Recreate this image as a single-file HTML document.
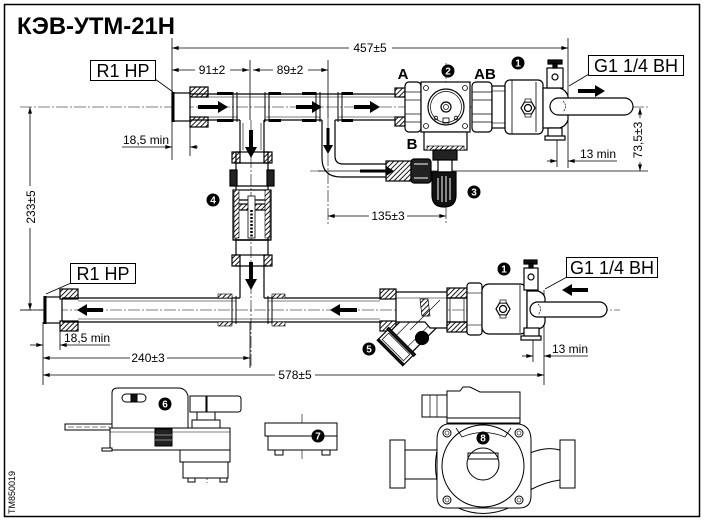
<!DOCTYPE html>
<html><head><meta charset="utf-8"><style>
html,body{margin:0;padding:0;background:#fff;}
svg{display:block;}
text{font-family:"Liberation Sans",sans-serif;}
</style></head><body>
<svg width="707" height="523" viewBox="0 0 707 523" xmlns="http://www.w3.org/2000/svg">
<defs>
<pattern id="h" width="3.5" height="3.5" patternUnits="userSpaceOnUse" patternTransform="rotate(45)"><rect width="3.5" height="3.5" fill="#fff"/><line x1="0.5" y1="0" x2="0.5" y2="3.5" stroke="#000" stroke-width="0.9"/></pattern>
<marker id="m" viewBox="0 0 10 6" refX="10" refY="3" markerWidth="8" markerHeight="4" markerUnits="userSpaceOnUse" orient="auto-start-reverse"><path d="M0,0L10,3L0,6z"/></marker>
</defs>
<rect width="707" height="523" fill="#fff"/>
<rect x="4.5" y="4.5" width="695" height="512" fill="none" stroke="#000" stroke-width="1.5"/>
<text x="17" y="34" font-size="24" font-weight="bold" textLength="158" lengthAdjust="spacingAndGlyphs">КЭВ-УТМ-21Н</text>

<!-- center lines -->
<g stroke="#000" stroke-width="0.6" stroke-dasharray="12 2 2 2" fill="none">
<line x1="20" y1="107" x2="648" y2="107"/>
<line x1="20" y1="310" x2="620" y2="310"/>
<line x1="251" y1="120" x2="251" y2="368"/>
<line x1="328" y1="118" x2="328" y2="224"/>
<line x1="446" y1="63" x2="446" y2="224"/>
<line x1="207" y1="414" x2="207" y2="483"/>
<line x1="302" y1="414" x2="302" y2="459"/>
<line x1="310" y1="171" x2="330" y2="171"/>
</g>

<!-- dimension lines -->
<g stroke="#000" stroke-width="0.8" fill="none">
<line x1="172" y1="38" x2="172" y2="160"/>
<line x1="568" y1="38" x2="568" y2="168"/>
<line x1="172" y1="48" x2="568" y2="48" marker-start="url(#m)" marker-end="url(#m)"/>
<line x1="250" y1="60" x2="250" y2="120"/>
<line x1="328" y1="60" x2="328" y2="118"/>
<line x1="172" y1="70" x2="249" y2="70" marker-start="url(#m)" marker-end="url(#m)"/>
<line x1="253" y1="70" x2="328" y2="70" marker-start="url(#m)" marker-end="url(#m)"/>
<line x1="190" y1="127" x2="190" y2="156"/>
<line x1="122" y1="147" x2="172" y2="147" marker-end="url(#m)"/>
<line x1="198" y1="147" x2="190" y2="147" marker-end="url(#m)"/>
<line x1="30" y1="107" x2="30" y2="310" marker-start="url(#m)" marker-end="url(#m)"/>
<line x1="20" y1="310" x2="43" y2="310"/>
<line x1="43" y1="322" x2="43" y2="385"/>
<line x1="60" y1="326" x2="60" y2="350"/>
<line x1="30" y1="345" x2="43" y2="345" marker-end="url(#m)"/>
<line x1="110" y1="345" x2="60" y2="345" marker-end="url(#m)"/>
<line x1="250" y1="322" x2="250" y2="368"/>
<line x1="43" y1="358" x2="250" y2="358" marker-start="url(#m)" marker-end="url(#m)"/>
<line x1="544" y1="290" x2="544" y2="385"/>
<line x1="43" y1="375" x2="544" y2="375" marker-start="url(#m)" marker-end="url(#m)"/>
<line x1="533" y1="335" x2="533" y2="362"/>
<line x1="522" y1="356" x2="533" y2="356" marker-end="url(#m)"/>
<line x1="588" y1="356" x2="544" y2="356" marker-end="url(#m)"/>
<line x1="557" y1="130" x2="557" y2="167"/>
<line x1="547" y1="161" x2="557" y2="161" marker-end="url(#m)"/>
<line x1="617" y1="161" x2="568" y2="161" marker-end="url(#m)"/>
<line x1="318" y1="171" x2="648" y2="171"/>
<line x1="640" y1="108" x2="640" y2="171" marker-start="url(#m)" marker-end="url(#m)"/>
<line x1="328" y1="216" x2="446" y2="216" marker-start="url(#m)" marker-end="url(#m)"/>
<line x1="155" y1="79" x2="173" y2="92"/>
<line x1="71" y1="283" x2="46" y2="294"/>
<line x1="589" y1="74" x2="569" y2="86"/>
<line x1="567" y1="277" x2="545" y2="289"/>
</g>
<g fill="#fff">
<rect x="349" y="41" width="43" height="14"/>
<rect x="195" y="63" width="35" height="14"/>
<rect x="273" y="63" width="35" height="14"/>
<rect x="24" y="186" width="14" height="42"/>
<rect x="130" y="351" width="37" height="14"/>
<rect x="275" y="368" width="40" height="14"/>
<rect x="369" y="209" width="38" height="14"/>
<rect x="631" y="118" width="14" height="44"/>
</g>
<g font-size="12" fill="#000">
<text x="370" y="52" text-anchor="middle">457±5</text>
<text x="212" y="74" text-anchor="middle">91±2</text>
<text x="290" y="74" text-anchor="middle">89±2</text>
<text x="123" y="144">18,5 min</text>
<text x="64" y="342">18,5 min</text>
<text x="148" y="362" text-anchor="middle">240±3</text>
<text x="295" y="379" text-anchor="middle">578±5</text>
<text x="388" y="220" text-anchor="middle">135±3</text>
<text x="580" y="158">13 min</text>
<text x="552" y="353">13 min</text>
<text transform="translate(35,207) rotate(-90)" text-anchor="middle">233±5</text>
<text transform="translate(642,140) rotate(-90)" text-anchor="middle">73,5±3</text>
</g>
<text transform="translate(15,514) rotate(-90)" font-size="9">TM850019</text>

<!-- label boxes -->
<g fill="#fff" stroke="#000" stroke-width="1">
<rect x="90.5" y="60.5" width="65" height="20"/>
<rect x="70.5" y="263.5" width="65" height="20"/>
<rect x="588.5" y="55.5" width="95" height="20"/>
<rect x="566.5" y="257.5" width="91" height="20"/>
</g>
<g font-size="18" fill="#000">
<text x="123" y="77" text-anchor="middle">R1 HP</text>
<text x="103" y="280" text-anchor="middle">R1 HP</text>
<text x="636" y="72" text-anchor="middle">G1 1/4 BH</text>
<text x="612" y="274" text-anchor="middle">G1 1/4 BH</text>
</g>
<g font-size="15" font-weight="bold" fill="#000" text-anchor="middle">
<text x="403" y="79">A</text>
<text x="485" y="79">AB</text>
<text x="412" y="149">B</text>
</g>

<!-- UPPER PIPE -->
<g stroke="#000" fill="none" stroke-width="1.2">
<rect x="172" y="93" width="18" height="28" fill="#fff"/>
<line x1="173" y1="92" x2="173" y2="122" stroke-width="3"/>
<rect x="190" y="87" width="18" height="10" fill="url(#h)"/>
<rect x="190" y="117" width="18" height="10" fill="url(#h)"/>
<line x1="190" y1="94" x2="405" y2="94"/>
<line x1="190" y1="120" x2="240" y2="120"/>
<line x1="264" y1="120" x2="322" y2="120"/>
<line x1="335" y1="120" x2="405" y2="120"/>
<g stroke-width="0.6">
<line x1="208" y1="97" x2="395" y2="97"/>
<line x1="208" y1="117" x2="238" y2="117"/>
<line x1="266" y1="117" x2="320" y2="117"/>
<line x1="338" y1="117" x2="395" y2="117"/>
</g>
<g stroke-width="1">
<line x1="233" y1="92" x2="233" y2="122"/><line x1="237" y1="92" x2="237" y2="122"/>
<line x1="265" y1="92" x2="265" y2="122"/><line x1="269" y1="92" x2="269" y2="122"/>
<line x1="316" y1="92" x2="316" y2="122"/><line x1="320" y1="92" x2="320" y2="122"/>
<line x1="338" y1="92" x2="338" y2="122"/><line x1="342" y1="92" x2="342" y2="122"/>
</g>
<g fill="#000" stroke="none">
<rect x="217" y="92" width="16" height="3"/><rect x="217" y="119" width="16" height="3"/>
<rect x="269" y="92" width="12" height="3"/><rect x="269" y="119" width="12" height="3"/>
<rect x="302" y="92" width="14" height="3"/><rect x="302" y="119" width="14" height="3"/>
<rect x="342" y="92" width="11" height="3"/><rect x="342" y="119" width="11" height="3"/>
</g>
<rect x="395" y="88" width="10" height="9" fill="url(#h)"/>
<rect x="395" y="117" width="10" height="9" fill="url(#h)"/>

<!-- vertical branch 4 -->
<line x1="240" y1="120" x2="240" y2="152"/><line x1="264" y1="120" x2="264" y2="152"/>
<rect x="232" y="152" width="8" height="11" fill="url(#h)"/><rect x="264" y="152" width="8" height="11" fill="url(#h)"/>
<rect x="236" y="152" width="32" height="88" fill="none"/>
<rect x="230" y="170" width="7" height="16" fill="#222"/><rect x="267" y="170" width="7" height="16" fill="#222"/>
<line x1="236" y1="163" x2="268" y2="163"/>
<line x1="236" y1="186" x2="268" y2="186"/>
<rect x="233" y="190" width="38" height="50" fill="none"/>
<line x1="233" y1="200" x2="271" y2="200"/>
<rect x="238" y="204" width="28" height="6" fill="url(#h)"/>
<rect x="234" y="190" width="5" height="48" fill="url(#h)" stroke-width="0.6"/>
<rect x="265" y="190" width="5" height="48" fill="url(#h)" stroke-width="0.6"/>
<rect x="248" y="196" width="7" height="42" fill="#fff" stroke-width="0.8"/>
<line x1="251.5" y1="210" x2="251.5" y2="238" stroke-width="2.5" stroke-dasharray="2 1.5"/>
<line x1="233" y1="240" x2="271" y2="240"/>
<rect x="236" y="240" width="32" height="15" fill="none"/>
<rect x="232" y="255" width="8" height="11" fill="url(#h)"/><rect x="264" y="255" width="8" height="11" fill="url(#h)"/>
<line x1="236" y1="266" x2="268" y2="266"/>
<line x1="240" y1="266" x2="240" y2="298"/><line x1="264" y1="266" x2="264" y2="298"/>
<line x1="243" y1="123" x2="243" y2="150" stroke-width="0.6"/><line x1="261" y1="123" x2="261" y2="150" stroke-width="0.6"/>

<!-- small branch -->
<path d="M322,120 V158 Q322,177 341,177 H386"/>
<path d="M335,120 V156 Q335,164 343,164 H386"/>
<rect x="386" y="161" width="25" height="20" fill="url(#h)"/>
<rect x="411" y="159" width="20" height="24" rx="3" fill="#222"/>
<line x1="414" y1="164" x2="428" y2="164" stroke="#fff" stroke-width="1"/>
<line x1="414" y1="178" x2="428" y2="178" stroke="#fff" stroke-width="1"/>

<!-- valve 2 -->
<rect x="405" y="82" width="16" height="50" rx="4" fill="#fff"/>
<line x1="405" y1="92" x2="421" y2="92" stroke-width="0.7"/><line x1="405" y1="100" x2="421" y2="100" stroke-width="0.7"/>
<line x1="405" y1="114" x2="421" y2="114" stroke-width="0.7"/><line x1="405" y1="122" x2="421" y2="122" stroke-width="0.7"/>
<rect x="421" y="82" width="49" height="50" fill="#fff"/>
<circle cx="446" cy="107" r="18"/>
<circle cx="446" cy="107" r="15.5" stroke-width="0.7"/>
<circle cx="446" cy="107" r="5"/><circle cx="446" cy="107" r="2.5" stroke-width="0.7"/>
<circle cx="426" cy="88" r="2.5" stroke-width="0.8"/><circle cx="465" cy="88" r="2.5" stroke-width="0.8"/>
<circle cx="426" cy="126" r="2.5" stroke-width="0.8"/><circle cx="465" cy="126" r="2.5" stroke-width="0.8"/>
<circle cx="436" cy="118" r="1.8" stroke-width="0.8"/><circle cx="456" cy="118" r="1.8" stroke-width="0.8"/>
<rect x="443" y="118" width="6" height="5" stroke-width="0.8"/>
<rect x="424" y="132" width="43" height="18" fill="#fff"/>
<rect x="427" y="146" width="37" height="4" fill="url(#h)" stroke-width="0.6"/>
<rect x="433" y="150" width="24" height="10" fill="#222"/>
<rect x="438" y="160" width="14" height="12" fill="#fff"/>
<path d="M432,172 H456 V195 Q456,207 444,207 Q432,207 432,195 Z" fill="#111"/>
<g stroke="#fff" stroke-width="1"><line x1="438" y1="178" x2="438" y2="200"/><line x1="442" y1="176" x2="442" y2="202"/><line x1="446" y1="176" x2="446" y2="202"/><line x1="450" y1="178" x2="450" y2="200"/></g>

<!-- valve 1 upper -->
<rect x="472" y="82" width="20" height="50" rx="4" fill="#fff"/>
<line x1="472" y1="92" x2="492" y2="92" stroke-width="0.7"/><line x1="472" y1="100" x2="492" y2="100" stroke-width="0.7"/>
<line x1="472" y1="114" x2="492" y2="114" stroke-width="0.7"/><line x1="472" y1="122" x2="492" y2="122" stroke-width="0.7"/>
<rect x="492" y="86" width="13" height="42" fill="#fff"/>
<line x1="492" y1="91" x2="505" y2="91" stroke-width="0.6"/><line x1="492" y1="123" x2="505" y2="123" stroke-width="0.6"/>
<rect x="505" y="80" width="38" height="54" rx="5" fill="#fff"/>
<line x1="512" y1="80" x2="512" y2="134" stroke-width="0.8"/>
<line x1="536" y1="82" x2="536" y2="132" stroke-width="0.8"/>
<path d="M543,88 H560 Q566,90 568,96 V120 Q566,126 560,128 H543 Z" fill="#fff"/>
<rect x="547" y="68" width="16" height="20" fill="#fff"/>
<circle cx="555" cy="77" r="3"/>
<rect x="548" y="60" width="14" height="4" fill="#111"/><rect x="553" y="63" width="4" height="5" fill="#111"/>
<rect x="548" y="128" width="14" height="9" fill="#fff"/>
<rect x="545" y="136" width="20" height="4" fill="#fff"/>
<rect x="550" y="98" width="83" height="17" rx="8.5" fill="#fff"/>
<path d="M563,101 Q568,106 563,112" stroke-width="0.7" stroke-dasharray="2 1"/>
<path d="M521,108 l3.5,-6 h7 l3.5,6 l-3.5,6 h-7 z" fill="#fff"/>
<circle cx="528" cy="108" r="3.5"/>
<rect x="525" y="99" width="6" height="3" fill="#fff" stroke-width="0.7"/>
<rect x="525" y="114" width="6" height="3" fill="#fff" stroke-width="0.7"/>

<!-- LOWER PIPE -->
<rect x="44" y="297" width="18" height="26" fill="#fff"/>
<line x1="45" y1="296" x2="45" y2="324" stroke-width="3"/>
<rect x="60" y="289" width="18" height="10" fill="url(#h)"/>
<rect x="60" y="321" width="18" height="10" fill="url(#h)"/>
<line x1="62" y1="298" x2="240" y2="298"/>
<line x1="264" y1="298" x2="397" y2="298"/>
<line x1="62" y1="322" x2="397" y2="322"/>
<line x1="78" y1="301" x2="236" y2="301" stroke-width="0.6"/>
<line x1="268" y1="301" x2="380" y2="301" stroke-width="0.6"/>
<line x1="78" y1="319" x2="380" y2="319" stroke-width="0.6"/>
<g stroke-width="1">
<line x1="232" y1="296" x2="232" y2="324"/><line x1="236" y1="296" x2="236" y2="324"/>
<line x1="268" y1="296" x2="268" y2="324"/><line x1="272" y1="296" x2="272" y2="324"/>
</g>
<rect x="218" y="294" width="14" height="4" fill="url(#h)" stroke-width="0.6"/><rect x="218" y="322" width="14" height="4" fill="url(#h)" stroke-width="0.6"/>
<rect x="272" y="294" width="13" height="4" fill="url(#h)" stroke-width="0.6"/><rect x="272" y="322" width="13" height="4" fill="url(#h)" stroke-width="0.6"/>
<rect x="380" y="289" width="16" height="10" fill="url(#h)"/>
<rect x="380" y="321" width="16" height="10" fill="url(#h)"/>
<!-- strainer -->
<g transform="translate(407,336) rotate(45)">
<rect x="-15" y="-26" width="30" height="34" fill="#fff"/>
<rect x="-18" y="8" width="36" height="16" fill="#fff"/>
<rect x="-15" y="11" width="30" height="9" stroke-width="0.7"/>
<rect x="-19" y="7" width="38" height="2.5" fill="#222"/>
<rect x="-18" y="22" width="36" height="2" fill="#222"/>
<line x1="-8" y1="-24" x2="-8" y2="8" stroke-width="0.6"/><line x1="8" y1="-24" x2="8" y2="8" stroke-width="0.6"/>
</g>
<path d="M396,292 H447 V328 H430 L425,322 H396 Z" fill="#fff"/>
<line x1="396" y1="298" x2="447" y2="298" stroke-width="0.6"/>
<line x1="396" y1="322" x2="412" y2="322" stroke-width="0.6"/>
<path d="M420,299 L428,299 L430,316 L422,316 Z" fill="url(#h)" stroke-width="0.7"/>
<line x1="410" y1="330" x2="440" y2="300" stroke-width="0.6"/>
<circle cx="422" cy="338" r="6.5" fill="#000"/>
<rect x="447" y="288" width="20" height="10" fill="url(#h)"/>
<rect x="447" y="322" width="20" height="10" fill="url(#h)"/>
<line x1="447" y1="298" x2="467" y2="298"/><line x1="447" y1="322" x2="467" y2="322"/>
<line x1="450" y1="298" x2="450" y2="322" stroke-width="0.7"/><line x1="464" y1="298" x2="464" y2="322" stroke-width="0.7"/>
<rect x="467" y="283" width="15" height="52" rx="3" fill="#fff"/>
<line x1="467" y1="293" x2="482" y2="293" stroke-width="0.6"/><line x1="467" y1="325" x2="482" y2="325" stroke-width="0.6"/>
<rect x="482" y="284" width="45" height="50" rx="7" fill="#fff"/>
<line x1="520" y1="285" x2="520" y2="333" stroke-width="0.8"/>
<path d="M527,291 H538 Q544,293 545,298 V322 Q544,328 538,329 H527 Z" fill="#fff"/>
<rect x="524" y="268" width="14" height="22" fill="#fff"/>
<circle cx="531" cy="277" r="3"/>
<rect x="524" y="260" width="13" height="4" fill="#111"/><rect x="529" y="263" width="4" height="5" fill="#111"/>
<rect x="524" y="328" width="15" height="9" fill="#fff"/>
<rect x="521" y="336" width="20" height="4" fill="#fff"/>
<rect x="530" y="302" width="77" height="15" rx="7.5" fill="#fff"/>
<path d="M538,304 Q543,309 538,315" stroke-width="0.7" stroke-dasharray="2 1"/>
<path d="M496,309 l3.5,-6 h7 l3.5,6 l-3.5,6 h-7 z" fill="#fff"/>
<circle cx="503" cy="309" r="3.5"/>
<rect x="500" y="300" width="6" height="3" fill="#fff" stroke-width="0.7"/>
<rect x="500" y="315" width="6" height="3" fill="#fff" stroke-width="0.7"/>
</g>

<!-- flow arrows -->
<g fill="#000">
<path d="M198,105 H218 V101 L228,107 L218,113 V109 H198 Z"/>
<path d="M296,105 H312 V101 L322,107 L312,113 V109 H296 Z"/>
<path d="M354,105 H370 V101 L380,107 L370,113 V109 H354 Z"/>
<path d="M578,89 H595 V85 L605,91 L595,97 V93 H578 Z"/>
<path d="M360,169.5 H386 V166 L394,171 L386,176 V172.5 H360 Z"/>
<path d="M326.5,128 V145 H323 L328,154 L333,145 H329.5 V128 Z"/>
<path d="M249,130 V147 H245 L251,158 L257,147 H253 V130 Z"/>
<path d="M249,262 V279 H245 L251,290 L257,279 H253 V262 Z"/>
<path d="M103,308 H87 V304 L77,310 L87,316 V312 H103 Z"/>
<path d="M357,308 H340 V304 L330,310 L340,316 V312 H357 Z"/>
<path d="M588,288 H572 V284 L562,290 L572,296 V292 H588 Z"/>
</g>

<!-- item 6 actuator -->
<g stroke="#000" stroke-width="1" fill="#fff">
<rect x="65" y="424" width="47" height="6"/>
<line x1="68" y1="427" x2="110" y2="427" stroke-width="0.6" stroke-dasharray="6 2"/>
<path d="M112,428 V393 Q112,388 118,388 H178 Q186,388 188,396 V428 Z"/>
<rect x="122" y="394" width="24" height="8" rx="4"/>
<rect x="131" y="394" width="6" height="8" fill="#111"/>
<rect x="190" y="396" width="16" height="16"/>
<path d="M207,396 H238 Q241,396 241,399 V409 Q241,412 238,412 H207 Z"/>
<rect x="197" y="412" width="18" height="8"/>
<rect x="192" y="420" width="28" height="8"/>
<rect x="110" y="428" width="120" height="22"/>
<line x1="110" y1="432" x2="230" y2="432" stroke-width="0.6"/>
<rect x="155" y="429" width="17" height="17" fill="#222"/>
<line x1="155" y1="435" x2="172" y2="435" stroke="#888"/><line x1="155" y1="440" x2="172" y2="440" stroke="#888"/>
<rect x="102" y="448" width="10" height="3"/>
<rect x="180" y="450" width="50" height="12"/>
<rect x="183" y="462" width="45" height="16"/>
<rect x="188" y="478" width="7" height="4"/>
<rect x="220" y="478" width="7" height="4"/>
</g>

<!-- item 7 -->
<g stroke="#000" stroke-width="1" fill="#fff">
<rect x="265" y="423" width="72" height="13"/>
<rect x="268" y="436" width="69" height="14"/>
<rect x="275" y="450" width="8" height="5"/>
<rect x="322" y="450" width="8" height="5"/>
</g>

<!-- item 8 pump -->
<g stroke="#000" stroke-width="1" fill="#fff">
<rect x="390" y="440" width="15" height="48"/>
<line x1="405" y1="450" x2="440" y2="450"/>
<line x1="405" y1="479" x2="440" y2="479"/>
<rect x="560" y="440" width="15" height="48"/>
<path d="M528,454 Q545,446 560,450" fill="none"/>
<path d="M530,490 Q545,482 560,480" fill="none"/>
<path d="M452,505 Q483,522 515,505" fill="none"/>
<path d="M440,440 Q431,465 440,492" fill="none"/>
<rect x="422" y="395" width="25" height="22"/>
<line x1="430" y1="395" x2="430" y2="417" stroke-width="0.7"/><line x1="437" y1="395" x2="437" y2="417" stroke-width="0.7"/>
<path d="M447,418 V391 H460 L463,387 H470 L480,392 H520 V418 Z"/>
<rect x="447" y="418" width="73" height="5"/>
<path d="M447,424 H519 Q531,426 531,440 V496 Q531,508 519,508 H447 Q437,508 437,496 V440 Q437,426 447,424 Z"/>
<path d="M456,428 L462,437 Q483,428 505,437 L511,428" fill="none" stroke-width="0.8"/>
<circle cx="483" cy="466" r="41" fill="none"/>
<circle cx="447" cy="433" r="4"/><circle cx="447" cy="433" r="2" stroke-width="0.6"/>
<circle cx="519" cy="433" r="4"/><circle cx="519" cy="433" r="2" stroke-width="0.6"/>
<circle cx="447" cy="500" r="4"/><circle cx="447" cy="500" r="2" stroke-width="0.6"/>
<circle cx="519" cy="500" r="4"/><circle cx="519" cy="500" r="2" stroke-width="0.6"/>
<circle cx="483" cy="464" r="16"/>
<rect x="468" y="453" width="30" height="6" fill="none"/>
</g>

<!-- callouts -->
<g fill="#000">
<circle cx="518" cy="63" r="6.5"/><circle cx="448" cy="71" r="6.5"/>
<circle cx="474" cy="192" r="6.5"/><circle cx="213" cy="200" r="6.5"/>
<circle cx="369" cy="349" r="6.5"/><circle cx="504" cy="269" r="6.5"/>
<circle cx="165" cy="404" r="6.5"/><circle cx="318" cy="436" r="6.5"/>
<circle cx="483" cy="438" r="6.5"/>
</g>
<g fill="#fff" font-size="10" font-weight="bold" text-anchor="middle">
<text x="518" y="66.5">1</text><text x="448" y="74.5">2</text>
<text x="474" y="195.5">3</text><text x="213" y="203.5">4</text>
<text x="369" y="352.5">5</text><text x="504" y="272.5">1</text>
<text x="165" y="407.5">6</text><text x="318" y="439.5">7</text>
<text x="483" y="441.5">8</text>
</g>
</svg>
</body></html>
